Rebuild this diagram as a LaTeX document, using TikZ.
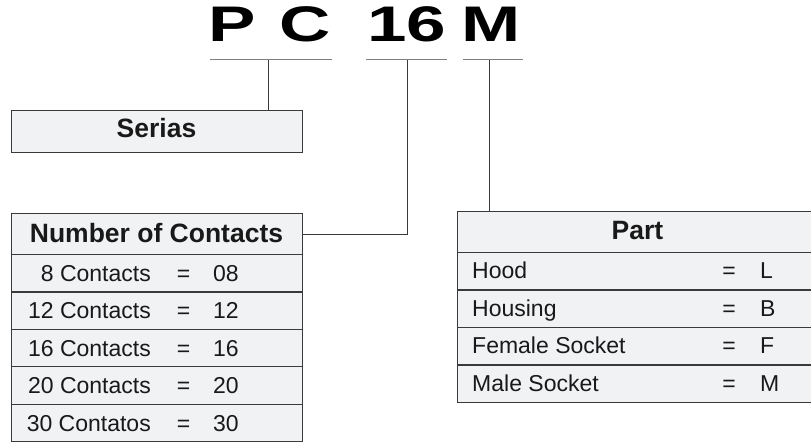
\documentclass[tikz,border=0pt]{standalone}
\usepackage{fontspec}
\setmainfont{Liberation Sans}
\definecolor{boxfill}{HTML}{F1F2F4}
\definecolor{boxline}{HTML}{3A3A3A}
\definecolor{ulcol}{HTML}{808080}
\begin{document}
\begin{tikzpicture}[x=1pt,y=-1pt,
  cell/.style={draw=boxline, fill=boxfill, line width=1.2pt, inner sep=0pt, anchor=north west},
  big/.style={font=\fontsize{50}{50}\selectfont\bfseries, xscale=1.42, anchor=base, inner sep=0pt},
  hdr/.style={font=\fontsize{26.5}{27}\selectfont\bfseries, anchor=base, inner sep=0pt, text=black!90},
  txt/.style={font=\fontsize{23}{24}\selectfont, inner sep=0pt, text=black!90},
  ul/.style={draw=ulcol, line width=1pt},
  conn/.style={draw=boxline, line width=1pt}]
\path[use as bounding box] (0,0) rectangle (811,443);
\clip (0,0) rectangle (811,443);
% big code letters
\node[big] (lp) at (232.5,42) {P};
\node[big] (lc) at (305,42) {C};
\node[big] (l16) at (406.5,42) {16};
\node[big] (lm) at (491.5,42) {M};
% underlines
\coordinate (u1a) at (210,60); \coordinate (u1b) at (332,60); \coordinate (u1c) at (268,60);
\coordinate (u2a) at (366,60); \coordinate (u2b) at (447,60); \coordinate (u2c) at (407,60);
\coordinate (u3a) at (463,60); \coordinate (u3b) at (523,60); \coordinate (u3c) at (489,60);
\draw[ul] (u1a) -- (u1b);
\draw[ul] (u2a) -- (u2b);
\draw[ul] (u3a) -- (u3b);
% Serias box
\node[cell, minimum width=291pt, minimum height=42pt] (serias) at (11,110) {};
\node[hdr] (seriast) at (156.5,137.5) {Serias};
% Number of contacts table
\node[cell, minimum width=291pt, minimum height=41pt] (noch) at (11,213) {};
\node[hdr] (nocht) at (156.5,242.5) {Number of Contacts};
\foreach \i/\l/\v [count=\k] in {0/8 Contacts/08, 1/12 Contacts/12, 2/16 Contacts/16, 3/20 Contacts/20, 4/30 Contatos/30} {
  \node[cell, minimum width=291pt, minimum height=37.4pt] (nr\k) at (11,254+37.4*\i) {};
  \node[txt, anchor=base east] (nl\k) at (151,281.5+37.4*\i) {\l};
  \node[txt, anchor=base] (ne\k) at (183.5,281.5+37.4*\i) {=};
  \node[txt, anchor=base west] (nv\k) at (213,281.5+37.4*\i) {\v};
}
% Part table
\node[cell, minimum width=361pt, minimum height=41pt] (parth) at (457,211) {};
\node[hdr] (partt) at (637.5,240) {Part};
\foreach \i/\l/\v [count=\k] in {0/Hood/L, 1/Housing/B, 2/Female Socket/F, 3/Male Socket/M} {
  \node[cell, minimum width=361pt, minimum height=37.5pt] (pr\k) at (457,252+37.5*\i) {};
  \node[txt, anchor=base west] (pl\k) at (472,279+37.5*\i) {\l};
  \node[txt, anchor=base] (pe\k) at (729,279+37.5*\i) {=};
  \node[txt, anchor=base west] (pv\k) at (760,279+37.5*\i) {\v};
}
% connectors
\draw[conn] (u1c) -- (u1c |- serias.north);
\draw[conn] (u2c) |- (noch.east);
\draw[conn] (u3c) -- (u3c |- parth.north);
\end{tikzpicture}
\end{document}
